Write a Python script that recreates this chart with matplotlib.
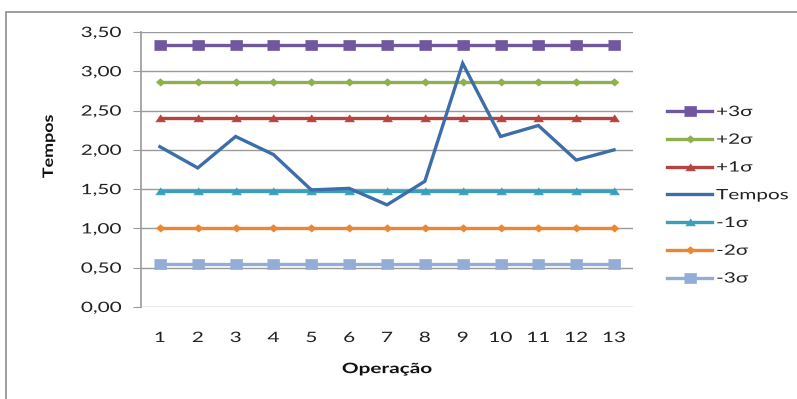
import matplotlib.pyplot as plt
from matplotlib.patches import Rectangle
from matplotlib.patheffects import AbstractPathEffect
from matplotlib.transforms import Affine2D

operacao = list(range(1, 14))
tempos = [2.04, 1.77, 2.17, 1.94, 1.49, 1.51, 1.30, 1.60, 3.10, 2.17, 2.31, 1.87, 2.00]
limites = {
    "+3σ": 3.34,
    "+2σ": 2.87,
    "+1σ": 2.41,
    "-1σ": 1.48,
    "-2σ": 1.01,
    "-3σ": 0.55,
}
yticks = [0.0, 0.5, 1.0, 1.5, 2.0, 2.5, 3.0, 3.5]


class HStretch(AbstractPathEffect):
    """Widen glyphs horizontally around a chosen anchor of the text."""

    def __init__(self, sx, anchor='left'):
        super().__init__((0.0, 0.0))
        self._sx = sx
        self._anchor = anchor

    def draw_path(self, renderer, gc, tpath, affine, rgbFace=None):
        ext = tpath.get_extents()
        if self._anchor == 'left':
            a = 0.0
        elif self._anchor == 'right':
            a = ext.x1
        else:
            a = 0.5 * (ext.x0 + ext.x1)
        t = Affine2D().translate(-a, 0).scale(self._sx, 1).translate(a, 0) + affine
        renderer.draw_path(gc, tpath, t, rgbFace)


plt.rcParams['font.family'] = ['Lato', 'DejaVu Sans']
FS = 10.3
SX = 1.45

fig = plt.figure(figsize=(7.97, 3.99), dpi=100)
ax = fig.add_axes([141 / 797, 1 - 307 / 399, 492 / 797, 275 / 399])

# outer chart frame
fig.patches.append(Rectangle((6 / 797, -0.1), 1.2, 1 - 12 / 399 + 0.1,
                             transform=fig.transFigure, fill=False,
                             edgecolor='#8c8c8c', linewidth=1.2))

# slightly wide marker outlines
square = [(-1.2, -1), (1.2, -1), (1.2, 1), (-1.2, 1)]
diamond = [(-1.15, 0), (0, 1), (1.15, 0), (0, -1)]
triangle = [(-1.3, -0.9), (1.3, -0.9), (0, 1)]

styles = {
    "+3σ": dict(color='#7157A0', marker=square, ms=8.6),
    "+2σ": dict(color='#8FB04F', marker=diamond, ms=6.2),
    "+1σ": dict(color='#B5433F', marker=triangle, ms=7.0),
    "-1σ": dict(color='#3C9FBA', marker=triangle, ms=7.0),
    "-2σ": dict(color='#EA8734', marker=diamond, ms=6.2),
    "-3σ": dict(color='#93ADD6', marker=square, ms=8.6),
}

order = ["+3σ", "+2σ", "+1σ", "Tempos", "-1σ", "-2σ", "-3σ"]
handles = {}
for name in order:
    if name == "Tempos":
        h, = ax.plot(operacao, tempos, color='#3D6EAA', lw=2.4, zorder=4,
                     solid_joinstyle='miter')
    else:
        st = styles[name]
        h, = ax.plot(operacao, [limites[name]] * len(operacao), color=st['color'],
                     lw=2.4, marker=st['marker'], ms=st['ms'],
                     markeredgecolor=st['color'], markeredgewidth=0.5, zorder=3)
    handles[name] = h

ax.set_xlim(0.5, 13.5)
ax.set_ylim(0, 3.5)
ax.set_yticks(yticks)
ax.set_yticklabels([f"{v:.2f}".replace('.', ',') for v in yticks])
ax.set_xticks(operacao)
ax.set_xticklabels([str(v) for v in operacao])
ax.grid(axis='y', color='#9a9a9a', lw=1)
ax.set_axisbelow(True)
for s in ['top', 'right', 'bottom']:
    ax.spines[s].set_visible(False)
ax.spines['left'].set_color('#9a9a9a')
ax.spines['left'].set_linewidth(1.2)
ax.tick_params(axis='y', length=5.8, color='#9a9a9a', labelsize=FS, pad=8.6,
               labelcolor='#222222')
ax.tick_params(axis='x', length=0, labelsize=FS, pad=18, labelcolor='#222222')

for t in ax.get_yticklabels():
    t.set_path_effects([HStretch(SX, 'right')])
for t in ax.get_xticklabels():
    t.set_path_effects([HStretch(SX, 'center')])

xl = ax.set_xlabel("Operação", fontsize=FS, fontweight='bold', color='#111111')
yl = ax.set_ylabel("Tempos", fontsize=FS, fontweight='bold', color='#111111')
xl.set_path_effects([HStretch(SX, 'center')])
yl.set_path_effects([HStretch(1.25, 'center')])
ax.xaxis.set_label_coords(0.5, -0.204)
ax.yaxis.set_label_coords(-0.175, 0.584)

leg = fig.legend([handles[n] for n in order], order, loc='upper left',
                 bbox_to_anchor=(667 / 797, 1 - 106 / 399), frameon=False,
                 fontsize=FS, handlelength=3.15, handletextpad=0.28,
                 labelspacing=1.1, borderaxespad=0, borderpad=0)
for t in leg.get_texts():
    t.set_path_effects([HStretch(SX, 'left')])
    t.set_color('#222222')

fig.savefig('out.png', dpi=100)
